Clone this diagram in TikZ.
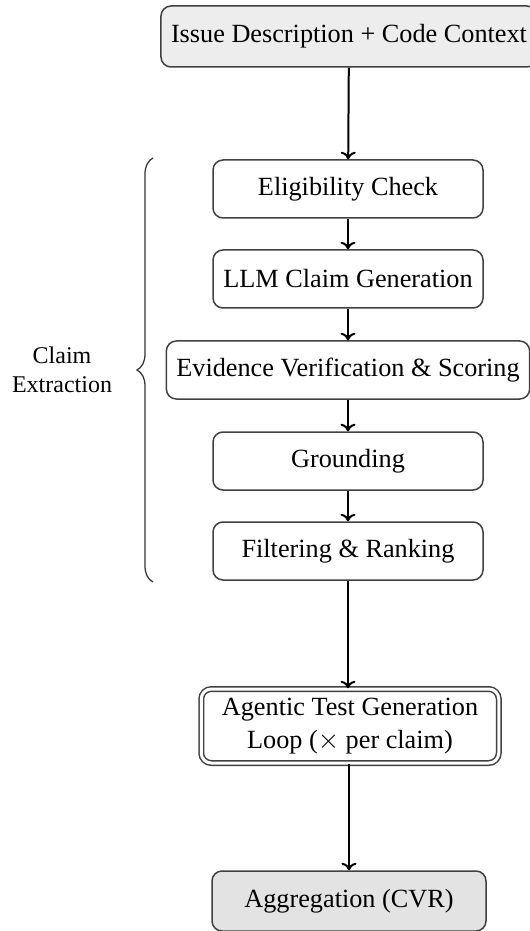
\documentclass[tikz,border=0pt]{standalone}
\usepackage{fontspec}
\setmainfont{Liberation Serif}
\usetikzlibrary{arrows.meta,decorations.pathreplacing}

\tikzset{
  stage/.style={draw=black!75, line width=0.6pt, rounded corners=4pt,
    align=center, inner xsep=4pt, inner ysep=0pt, minimum height=23.2pt,
    font=\fontsize{10.5}{13.2}\selectfont},
  fixedw/.style={stage, minimum width=108pt},
  shaded/.style={fill=black!7},
  shadedb/.style={fill=black!11},
  flow/.style={-{To[length=3pt,width=6pt]}, line width=0.8pt, black},
}

\begin{document}
\begin{tikzpicture}[x=0.4pt,y=-0.4pt]
  \useasboundingbox (0,0) rectangle (529,931);

  % input
  \node[stage, shaded, minimum height=24.4pt] (top) at (349,36.5)
    {Issue Description + Code Context};

  % claim extraction stages
  \node[fixedw] (elig)   at (348,189) {Eligibility Check};
  \node[fixedw] (llm)    at (348,279) {LLM Claim Generation};
  \node[stage]  (evid)   at (348,370) {Evidence Verification \& Scoring};
  \node[fixedw] (ground) at (348,461) {Grounding};
  \node[fixedw] (filt)   at (348,551) {Filtering \& Ranking};

  % test generation loop
  \node[stage, double, double distance=1.2pt, minimum width=119pt,
        minimum height=29.6pt, inner ysep=2pt] (agent) at (350,726)
    {Agentic Test Generation\\Loop ($\times$ per claim)};

  % output
  \node[fixedw, shadedb, minimum width=109.6pt, minimum height=24pt] (agg)
    at (349,901) {Aggregation (CVR)};

  \draw[flow] (top)    -- (elig);
  \draw[flow] (elig)   -- (llm);
  \draw[flow] (llm)    -- (evid);
  \draw[flow] (evid)   -- (ground);
  \draw[flow] (ground) -- (filt);
  \draw[flow] (filt.south) -- (agent.north -| filt.south);
  \draw[flow] (agent.south -| agg.north) -- (agg);

  % grouping brace
  \coordinate (bb) at (153,582);
  \coordinate (bt) at (153,158);
  \draw[black!80, line width=0.5pt,
        decorate, decoration={brace, amplitude=6.4pt}] (bb) -- (bt);
  \node[align=center, font=\fontsize{9.6}{11.6}\selectfont, inner sep=0pt]
    (grp) at (62,370) {Claim\\Extraction};
\end{tikzpicture}
\end{document}
